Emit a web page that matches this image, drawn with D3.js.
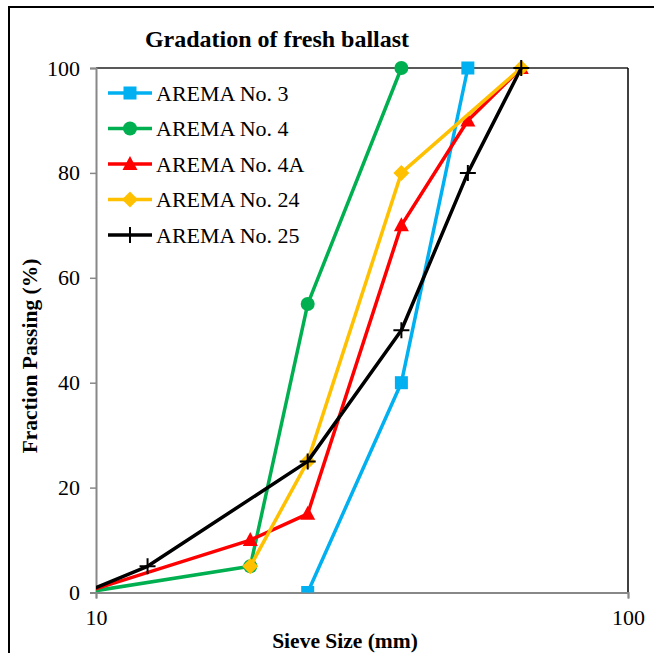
<!DOCTYPE html>
<html>
<head>
<meta charset="utf-8">
<script src="https://cdn.jsdelivr.net/npm/d3@7"></script>
<style>
  html, body { margin: 0; padding: 0; background: #fff; }
  svg { display: block; }
  text { font-family: "Liberation Serif", "Times New Roman", serif; fill: #000; }
</style>
</head>
<body>
<svg id="chart" width="654" height="653"></svg>
<script>
// Sieve sizes (mm) and percent passing for each AREMA gradation
const sizesNo3   = [25, 37.5, 50];
const passNo3    = [0, 40, 100];
const sizesNo4   = [9.5, 19.5, 25, 37.5];
const passNo4    = [0, 5, 55, 100];
const sizesNo4A  = [9.5, 19.5, 25, 37.5, 50, 63];
const passNo4A   = [0, 10, 15, 70, 90, 100];
const sizesNo24  = [19.5, 25, 37.5, 63];
const passNo24   = [5, 25, 80, 100];
const sizesNo25  = [9.5, 12.5, 25, 37.5, 50, 63];
const passNo25   = [0, 5, 25, 50, 80, 100];

const seriesNames = ["AREMA No. 3", "AREMA No. 4", "AREMA No. 4A", "AREMA No. 24", "AREMA No. 25"];
const xTicks = [10, 100];
const yTicks = [0, 20, 40, 60, 80, 100];

const series = [
  { name: seriesNames[0], xs: sizesNo3,  ys: passNo3,  color: "#00B0F0", marker: "square" },
  { name: seriesNames[1], xs: sizesNo4,  ys: passNo4,  color: "#00B050", marker: "circle" },
  { name: seriesNames[2], xs: sizesNo4A, ys: passNo4A, color: "#FF0000", marker: "triangle" },
  { name: seriesNames[3], xs: sizesNo24, ys: passNo24, color: "#FFC000", marker: "diamond" },
  { name: seriesNames[4], xs: sizesNo25, ys: passNo25, color: "#000000", marker: "plus" }
];

const SERIF = "'Liberation Serif', 'Times New Roman', serif";
const svg = d3.select("#chart");

// outer chart frame (runs off the right and bottom edges)
svg.append("rect")
  .attr("x", 9).attr("y", 7).attr("width", 700).attr("height", 700)
  .attr("fill", "none").attr("stroke", "#000").attr("stroke-width", 2);

const plot = { left: 96, right: 628, top: 68, bottom: 592.5 };

const x = d3.scaleLog().domain([10, 100]).range([plot.left, plot.right]);
const y = d3.scaleLinear().domain([0, 100]).range([plot.bottom, plot.top]);

// clip lines to the plot area
svg.append("defs").append("clipPath").attr("id", "plotClip")
  .append("rect")
  .attr("x", plot.left).attr("y", plot.top - 20)
  .attr("width", plot.right - plot.left + 20).attr("height", plot.bottom - plot.top + 20);

// plot area border: top and right dark, axes grey
svg.append("line")
  .attr("x1", plot.left).attr("x2", plot.right)
  .attr("y1", plot.top).attr("y2", plot.top)
  .attr("stroke", "#222").attr("stroke-width", 1.5);
svg.append("line")
  .attr("x1", plot.right).attr("x2", plot.right)
  .attr("y1", plot.top).attr("y2", plot.bottom)
  .attr("stroke", "#000").attr("stroke-width", 1.5);

// y axis
const yAxis = d3.axisLeft(y).tickValues(yTicks).tickSize(6).tickPadding(10).tickFormat(d3.format("d"));
const gy = svg.append("g").attr("transform", `translate(${plot.left},0)`).call(yAxis)
  .attr("font-family", SERIF).attr("font-size", 22);
gy.select(".domain").attr("stroke", "#888").attr("stroke-width", 2);
gy.selectAll(".tick line").attr("stroke", "#888").attr("stroke-width", 1.5);
gy.selectAll(".tick text").style("font-family", SERIF).style("font-size", "22px").attr("fill", "#000");

// x axis
const xAxis = d3.axisBottom(x).tickValues(xTicks).tickSize(6).tickPadding(11).tickFormat(d3.format("d"));
const gx = svg.append("g").attr("transform", `translate(0,${plot.bottom})`).call(xAxis)
  .attr("font-family", SERIF).attr("font-size", 22);
gx.select(".domain").attr("stroke", "#888").attr("stroke-width", 2);
gx.selectAll(".tick line").attr("stroke", "#888").attr("stroke-width", 1.5);
gx.selectAll(".tick text").style("font-family", SERIF).style("font-size", "22px").attr("fill", "#000");

// titles
svg.append("text")
  .attr("x", 277).attr("y", 47)
  .attr("text-anchor", "middle")
  .style("font-size", "24px").style("font-weight", "bold")
  .text("Gradation of fresh ballast");

svg.append("text")
  .attr("x", 345).attr("y", 648)
  .attr("text-anchor", "middle")
  .style("font-size", "21.5px").style("font-weight", "bold")
  .text("Sieve Size (mm)");

svg.append("text")
  .attr("transform", "translate(37,356) rotate(-90)")
  .attr("text-anchor", "middle")
  .style("font-size", "21.5px").style("font-weight", "bold")
  .text("Fraction Passing (%)");

// marker drawing
function drawMarker(g, type, color, cx, cy) {
  if (type === "square") {
    g.append("rect").attr("x", cx - 6.5).attr("y", cy - 6.5).attr("width", 13).attr("height", 13).attr("fill", color);
  } else if (type === "circle") {
    g.append("circle").attr("cx", cx).attr("cy", cy).attr("r", 7).attr("fill", color);
  } else if (type === "triangle") {
    g.append("path").attr("d", `M${cx},${cy - 8}L${cx + 7.5},${cy + 6}L${cx - 7.5},${cy + 6}Z`).attr("fill", color);
  } else if (type === "diamond") {
    g.append("path").attr("d", `M${cx},${cy - 8}L${cx + 8},${cy}L${cx},${cy + 8}L${cx - 8},${cy}Z`).attr("fill", color);
  } else if (type === "plus") {
    g.append("path").attr("d", `M${cx - 8},${cy}H${cx + 8}M${cx},${cy - 8}V${cy + 8}`)
      .attr("stroke", color).attr("stroke-width", 2).attr("fill", "none");
  }
}

const line = d3.line().x(d => x(d[0])).y(d => y(d[1]));

const gSeries = svg.append("g").attr("clip-path", "url(#plotClip)");
series.forEach(s => {
  const pts = s.xs.map((v, i) => [v, s.ys[i]]);
  const g = gSeries.append("g");
  g.append("path").datum(pts).attr("d", line)
    .attr("fill", "none").attr("stroke", s.color).attr("stroke-width", 3.5)
    .attr("stroke-linejoin", "round");
  pts.forEach(p => drawMarker(g, s.marker, s.color, x(p[0]), y(p[1])));
});

// legend
const legend = svg.append("g");
series.forEach((s, i) => {
  const ly = 93 + i * 35.5;
  legend.append("line").attr("x1", 108).attr("x2", 152).attr("y1", ly).attr("y2", ly)
    .attr("stroke", s.color).attr("stroke-width", 3.5);
  drawMarker(legend, s.marker, s.color, 130, ly);
  legend.append("text").attr("x", 156).attr("y", ly + 7.5)
    .style("font-size", "22px").text(s.name);
});
</script>
</body>
</html>
